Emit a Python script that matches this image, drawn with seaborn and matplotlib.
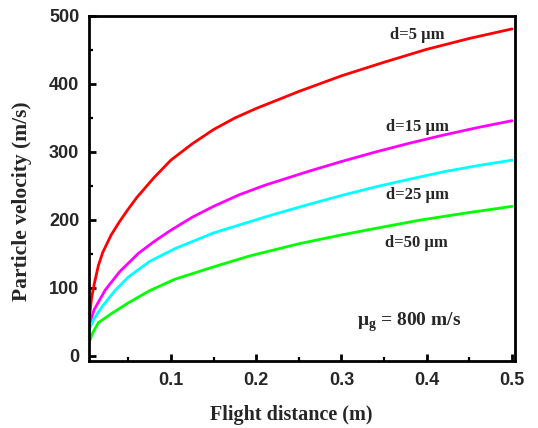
import matplotlib
matplotlib.use("Agg")
import matplotlib.pyplot as plt
import seaborn as sns
import pandas as pd
from matplotlib.ticker import MultipleLocator

sns.set_theme(style="white")
plt.rcParams['font.family'] = ['Liberation Serif', 'DejaVu Serif']

# Data
x_d5 = [0.004, 0.007, 0.01, 0.015, 0.02, 0.03, 0.04, 0.05, 0.06, 0.08, 0.1, 0.125, 0.15, 0.175, 0.2, 0.25, 0.3, 0.35, 0.4, 0.45, 0.5]
v_d5 = [50, 85, 105, 133, 152, 178, 198, 216, 233, 262, 288, 312, 333, 350, 364, 389, 412, 432, 451, 467, 481]

x_d15 = [0.004, 0.01, 0.023, 0.04, 0.062, 0.08, 0.1, 0.125, 0.15, 0.18, 0.21, 0.26, 0.3, 0.34, 0.38, 0.42, 0.46, 0.5]
v_d15 = [45, 68, 97, 124, 151, 168, 185, 204, 220, 237, 251, 271, 286, 300, 313, 325, 336, 346]

x_d25 = [0.004, 0.01, 0.019, 0.035, 0.05, 0.075, 0.105, 0.15, 0.181, 0.22, 0.259, 0.3, 0.341, 0.38, 0.42, 0.46, 0.5]
v_d25 = [38, 55, 72, 97, 116, 139, 158, 181, 193, 208, 222, 236, 249, 260, 271, 280, 288]

x_d50 = [0.004, 0.008, 0.015, 0.03, 0.05, 0.075, 0.105, 0.15, 0.192, 0.25, 0.3, 0.35, 0.393, 0.45, 0.5]
v_d50 = [19, 33, 49, 62, 78, 96, 113, 131, 147, 165, 178, 190, 200, 211, 220]

labels = ["d=5 \u03bcm", "d=15 \u03bcm", "d=25 \u03bcm", "d=50 \u03bcm"]
colors = ["#ff0000", "#ff00ff", "#00ffff", "#00ff00"]
x_ticks = [0.1, 0.2, 0.3, 0.4, 0.5]
y_ticks = [0, 100, 200, 300, 400, 500]

frames = []
for lab, xs, vs in zip(labels, [x_d5, x_d15, x_d25, x_d50], [v_d5, v_d15, v_d25, v_d50]):
    frames.append(pd.DataFrame({"x": xs, "v": vs, "series": lab}))
df = pd.concat(frames, ignore_index=True)

fig = plt.figure(figsize=(5.38, 4.28), dpi=100)
ax = fig.add_axes([89/538, 1-361/428, (515-89)/538, (361-16)/428])

sns.lineplot(data=df, x="x", y="v", hue="series", palette=dict(zip(labels, colors)),
             linewidth=2.0, legend=False, ax=ax, estimator=None, sort=True)

ax.set_xlim(0.004, 0.5035)
ax.set_ylim(-7.4, 500)
ax.xaxis.set_minor_locator(MultipleLocator(0.05))
ax.yaxis.set_minor_locator(MultipleLocator(50))
ax.set_xticks(x_ticks)
ax.set_xticklabels([f"{t:.1f}" for t in x_ticks])
ax.set_yticks(y_ticks)
ax.set_yticklabels([str(t) for t in y_ticks])
tick_font = dict(family="Liberation Sans", weight="bold", size=13)
for lbl in ax.get_xticklabels() + ax.get_yticklabels():
    lbl.set_fontproperties(tick_font)
ax.tick_params(which="major", direction="in", length=5, width=2.0, color="black")
ax.tick_params(which="minor", direction="in", length=3, width=1.6, color="black")
ax.tick_params(axis="x", which="major", pad=8)
ax.tick_params(axis="y", which="major", pad=7)
ax.tick_params(axis="x", which="both", bottom=True, top=False)
ax.tick_params(axis="y", which="both", left=True, right=False)

for sp in ax.spines.values():
    sp.set_linewidth(2.0)
    sp.set_color("black")

ax.set_xlabel("Flight distance (m)", fontsize=14.5, fontweight="bold", va="center")
ax.xaxis.set_label_coords(0.475, -0.157)
ax.set_ylabel("Particle velocity (m/s)", fontsize=15.5, fontweight="bold", va="center")
ax.yaxis.set_label_coords(-0.157, 0.464)

label_pos = [(0.389, 472), (0.389, 337), (0.389, 237), (0.388, 166)]
for lab, (lx, ly) in zip(labels, label_pos):
    ax.text(lx, ly, lab, fontsize=12, fontweight="bold", ha="center", va="center")

ax.text(0.3795, 50, "\u03bc$_\\mathregular{g}$ = 800 m/s", fontsize=14, fontweight="bold",
        ha="center", va="center")

fig.savefig("out.png", dpi=100)
